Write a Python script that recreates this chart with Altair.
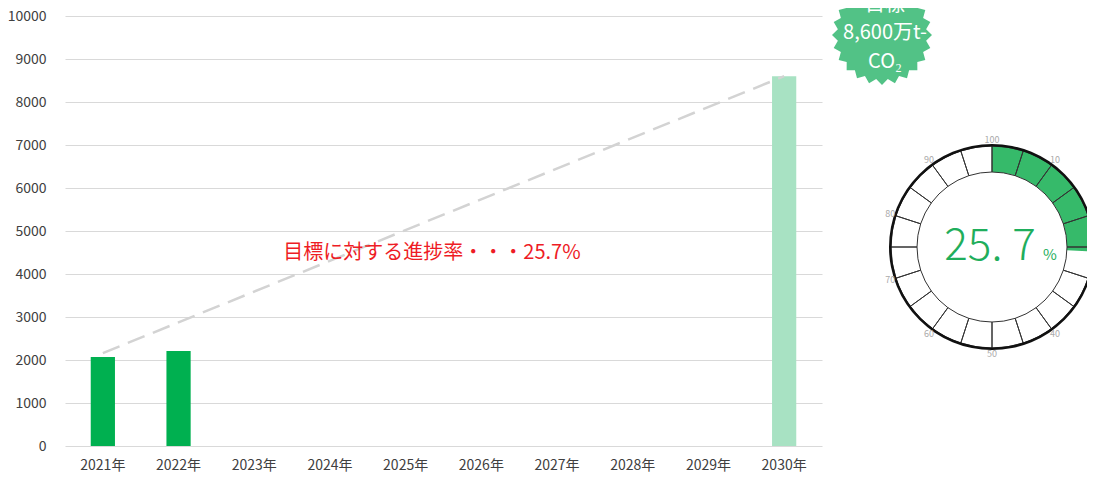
import math
import altair as alt
import pandas as pd

# ---------------- data ----------------
years = ["2021年", "2022年", "2023年", "2024年", "2025年",
         "2026年", "2027年", "2028年", "2029年", "2030年"]
emissions = [2070, 2210, None, None, None, None, None, None, None, 8600]
kinds = ["実績", "実績", None, None, None, None, None, None, None, "目標"]

path_years = ["2021年", "2030年"]
path_values = [2160, 8600]

target = 8600
latest = 2210
progress = round(latest / target * 100, 1)  # 25.7

gauge_tick_pos = [0, 10, 20, 30, 40, 50, 60, 70, 80, 90]
gauge_tick_labels = ["100", "10", "20", "30", "40", "50", "60", "70", "80", "90"]
n_segments = 20

badge_lines = ["目標", "8,600万t-", "CO₂"]

# ---------------- layout / style ----------------
FONT = "Noto Sans CJK JP"
W, H = 757, 430
CX, CY = 927, 231          # gauge centre (plot coords)
R_IN, R_OUT = 75, 101

bar_df = pd.DataFrame({"year": years, "value": emissions, "kind": kinds}).dropna()
path_df = pd.DataFrame({"year": path_years, "value": path_values})
seg_step = 100 / n_segments
seg_df = pd.DataFrame({"s": [i * seg_step for i in range(n_segments)],
                       "e": [(i + 1) * seg_step for i in range(n_segments)]})
prog_df = pd.DataFrame({"s": [0], "e": [progress]})
ring_df = pd.DataFrame({"s": [0], "e": [100]})
lab_df = pd.DataFrame({"pos": gauge_tick_pos, "label": gauge_tick_labels})
one = pd.DataFrame({"a": [0]})

theta_scale = alt.Scale(domain=[0, 100], range=[0, 2 * math.pi])

x_enc = alt.X("year:N", sort=years,
              scale=alt.Scale(domain=years, paddingInner=0.68, paddingOuter=0.34),
              axis=alt.Axis(title=None, labelAngle=0, domain=False, ticks=False,
                            labelPadding=12, labelFontSize=14, labelColor="#404040",
                            labelFont=FONT, grid=False))
y_enc = alt.Y("value:Q", scale=alt.Scale(domain=[0, 10000], nice=False),
              axis=alt.Axis(title=None, values=list(range(0, 10001, 1000)),
                            format="d", domain=False, ticks=False, labelPadding=19,
                            labelFontSize=14, labelColor="#404040", labelFont=FONT,
                            grid=True, gridColor="#d9d9d9", gridWidth=1))

bars = alt.Chart(bar_df).mark_bar().encode(
    x=x_enc, y=y_enc,
    color=alt.Color("kind:N", scale=alt.Scale(domain=["実績", "目標"],
                                              range=["#00b050", "#a8e2c3"]),
                    legend=None))

path = alt.Chart(path_df).mark_line(color="#d3d3d3", strokeWidth=2.5,
                                    strokeDash=[18, 9]).encode(
    x=alt.X("year:N", sort=years, bandPosition=0.5), y="value:Q")

note = alt.Chart(one).mark_text(
    text=f"目標に対する進捗率・・・{progress}%", font=FONT, fontSize=20,
    color="#ee1c25", align="center", baseline="middle").encode(
    x=alt.value(367), y=alt.value(237))


def star_path(n, inner):
    pts = []
    for k in range(2 * n):
        r = 1 if k % 2 == 0 else inner
        a = math.pi * k / n
        pts.append(f"{r * math.sin(a):.4f},{-r * math.cos(a):.4f}")
    return "M" + "L".join(pts) + "Z"


badge = alt.Chart(one).mark_point(
    shape=star_path(24, 0.89), filled=True, fill="#52c286", opacity=1,
    size=10000, strokeWidth=0).encode(x=alt.value(817), y=alt.value(19))

badge_texts = [
    alt.Chart(one).mark_text(
        text=line, font=FONT, fontSize=20, color="white",
        align="center", baseline="middle").encode(x=alt.value(820), y=alt.value(yy))
    for line, yy in zip(badge_lines, [-11, 17, 46])
]

prog_arc = alt.Chart(prog_df).mark_arc(
    fill="#36ba6a", innerRadius=R_IN, outerRadius=R_OUT).encode(
    theta=alt.Theta("s:Q", scale=theta_scale, stack=False), theta2="e:Q",
    x=alt.value(CX), y=alt.value(CY))

seg_arc = alt.Chart(seg_df).mark_arc(
    fill="white", fillOpacity=0, stroke="#333333", strokeWidth=1,
    innerRadius=R_IN, outerRadius=R_OUT).encode(
    theta=alt.Theta("s:Q", scale=theta_scale, stack=False), theta2="e:Q",
    x=alt.value(CX), y=alt.value(CY))

ring = alt.Chart(ring_df).mark_arc(
    fill="#111111", innerRadius=R_OUT - 0.5, outerRadius=R_OUT + 2).encode(
    theta=alt.Theta("s:Q", scale=theta_scale, stack=False), theta2="e:Q",
    x=alt.value(CX), y=alt.value(CY))

labels = alt.Chart(lab_df).mark_text(
    font=FONT, fontSize=9, color="#aaaaaa", radius=107,
    align="center", baseline="middle").encode(
    theta=alt.Theta("pos:Q", scale=theta_scale, stack=False),
    text="label:N", x=alt.value(CX), y=alt.value(CY))

big = alt.Chart(one).mark_text(
    text=f"{progress:.1f}".replace(".", ". "), font=FONT, fontSize=44,
    fontWeight=300, color="#1fae5c", align="center", baseline="alphabetic").encode(
    x=alt.value(925), y=alt.value(244))

pct = alt.Chart(one).mark_text(
    text="%", font=FONT, fontSize=15, color="#1fae5c", align="center",
    baseline="alphabetic").encode(x=alt.value(985), y=alt.value(244))

chart = alt.layer(
    bars, path, note, badge, *badge_texts, prog_arc, seg_arc, ring, labels, big, pct
).properties(
    width=W, height=H,
    autosize=alt.AutoSizeParams(type="none"),
    padding={"left": 57, "top": 8, "right": 265, "bottom": 30},
    background="white",
).configure_view(stroke=None)

chart.save("out.html", embed_options={"renderer": "svg", "actions": False})
